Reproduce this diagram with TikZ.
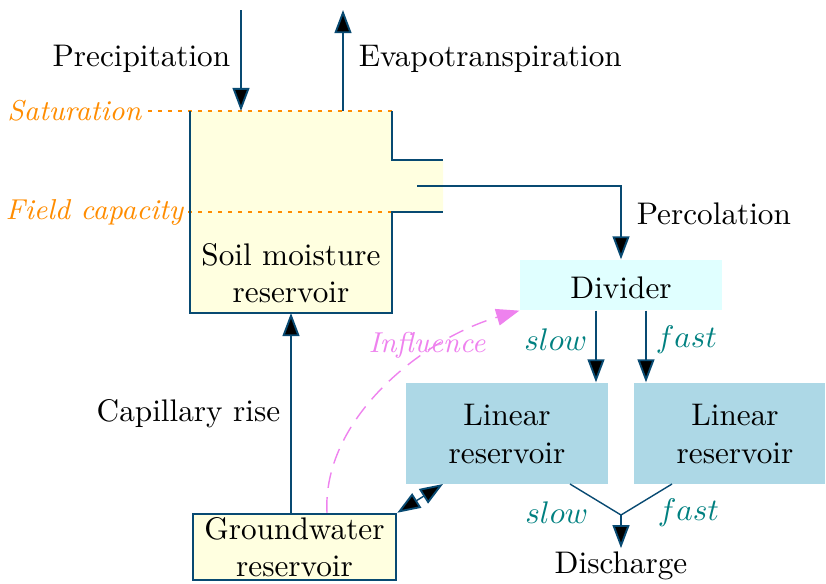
\documentclass[tikz,border=0pt]{standalone}
\usetikzlibrary{arrows.meta}
\definecolor{lineblue}{RGB}{8,74,114}
\definecolor{soilfill}{RGB}{255,255,224}
\definecolor{divfill}{RGB}{224,255,255}
\definecolor{linfill}{RGB}{173,216,230}
\definecolor{levelorange}{RGB}{255,140,0}
\definecolor{flowteal}{RGB}{0,128,128}
\definecolor{inflviolet}{RGB}{238,130,238}
\tikzset{
  tip/.tip={Triangle[length=7.4pt,width=5.4pt,fill=black,line width=0.6pt]},
  flow/.style={draw=lineblue, line width=0.45pt, -tip},
  wall/.style={draw=lineblue, line width=0.8pt},
  level/.style={draw=levelorange, dash pattern=on 1.2pt off 2pt, line width=0.4pt},
  leveltext/.style={text=levelorange, font=\fontsize{9.2}{11}\selectfont\itshape, inner sep=1pt},
  lintank/.style={fill=linfill, minimum height=101*0.32pt, inner sep=0pt},
  rate/.style={text=flowteal, inner sep=1pt},
  plain/.style={inner sep=1pt}
}
\begin{document}
\begin{tikzpicture}[x=0.32pt,y=-0.32pt]
\useasboundingbox (0,0) rectangle (826,583);

% soil moisture reservoir with its outlet
\fill[soilfill] (190,111) -- (392,111) -- (392,160) -- (443,160) -- (443,212)
  -- (392,212) -- (392,313) -- (190,313) -- cycle;
\draw[level] (148,111) -- (392,111);
\draw[level] (188,212) -- (443,212);
\draw[wall] (190,111) -- (190,313) -- (392,313) -- (392,212) -- (443,212);
\draw[wall] (392,111) -- (392,160) -- (443,160);
\node[align=center, inner sep=0pt] (soil) at (291,273) {Soil moisture\\reservoir};
\node[leveltext, anchor=east] (sat) at (145,111) {Saturation};
\node[leveltext, anchor=east] (fc) at (187,212) {Field capacity};
\coordinate (soilbot) at (291,313);
\coordinate (outlet) at (417,186);

% vertical fluxes at the surface
\coordinate (ptop) at (241,10);
\coordinate (pin) at (241,111);
\coordinate (eout) at (343,10);
\coordinate (ebase) at (343,111);
\draw[flow] (ptop) -- (pin);
\draw[flow] (ebase) -- (eout);
\node[plain, anchor=east] (prec) at (234,59) {Precipitation};
\node[plain, anchor=west] (evap) at (355,59) {Evapotranspiration};

% divider and linear reservoirs
\node[fill=divfill, minimum width=202*0.32pt, minimum height=50*0.32pt, inner sep=0pt] (div) at (621,285) {};
\node[plain] (divtext) at (621,288) {Divider};
\node[lintank, minimum width=202*0.32pt] (lin1) at (507,433.5) {};
\node[lintank, minimum width=191*0.32pt] (lin2) at (729.5,433.5) {};
\node[align=center, inner sep=0pt] (lin1text) at (507,434) {Linear\\reservoir};
\node[align=center, inner sep=0pt] (lin2text) at (735,434) {Linear\\reservoir};

\draw[flow] (outlet) -| (div.north);
\node[plain, anchor=west] (perc) at (633,214) {Percolation};

\draw[flow] (div.south -| 596,0) -- (lin1.north -| 596,0);
\draw[flow] (div.south -| 646,0) -- (lin2.north -| 646,0);
\node[rate, anchor=east] (s1) at (591,340) {$slow$};
\node[rate, anchor=west] (f1) at (652,340) {$fast$};

% groundwater reservoir
\node[draw=lineblue, line width=0.8pt, fill=soilfill, minimum width=203*0.32pt,
  minimum height=66*0.32pt, align=center, inner sep=0pt] (gw) at (294.5,547) {Groundwater\\reservoir};
\draw[flow] (gw.north -| soilbot) -- (soilbot);
\node[plain, anchor=east] (cap) at (284,414) {Capillary rise};

\coordinate (linfoot) at (443,484);
\draw[draw=lineblue, line width=0.45pt, tip-tip] (gw.north east) -- (linfoot);

% influence of groundwater on the divider
\draw[inflviolet, dash pattern=on 5pt off 3pt, line width=0.45pt,
  -{Triangle[length=7.4pt,width=5.4pt]}]
  (gw.north -| 327,0) .. controls (322,420) and (420,340) .. (div.south west);
\node[text=inflviolet, font=\fontsize{9.2}{11}\selectfont\itshape, inner sep=1pt] (infl) at (427,345) {Influence};

% discharge
\coordinate (q1) at (570,484);
\coordinate (q2) at (672,484);
\coordinate (qj) at (621,515);
\node[plain] (dis) at (621,566) {Discharge};
\draw[draw=lineblue, line width=0.45pt] (q1) -- (qj) -- (q2);
\draw[flow] (qj) -- (dis.north);
\node[rate, anchor=east] (s2) at (592,513) {$slow$};
\node[rate, anchor=west] (f2) at (654,513) {$fast$};
\end{tikzpicture}
\end{document}
